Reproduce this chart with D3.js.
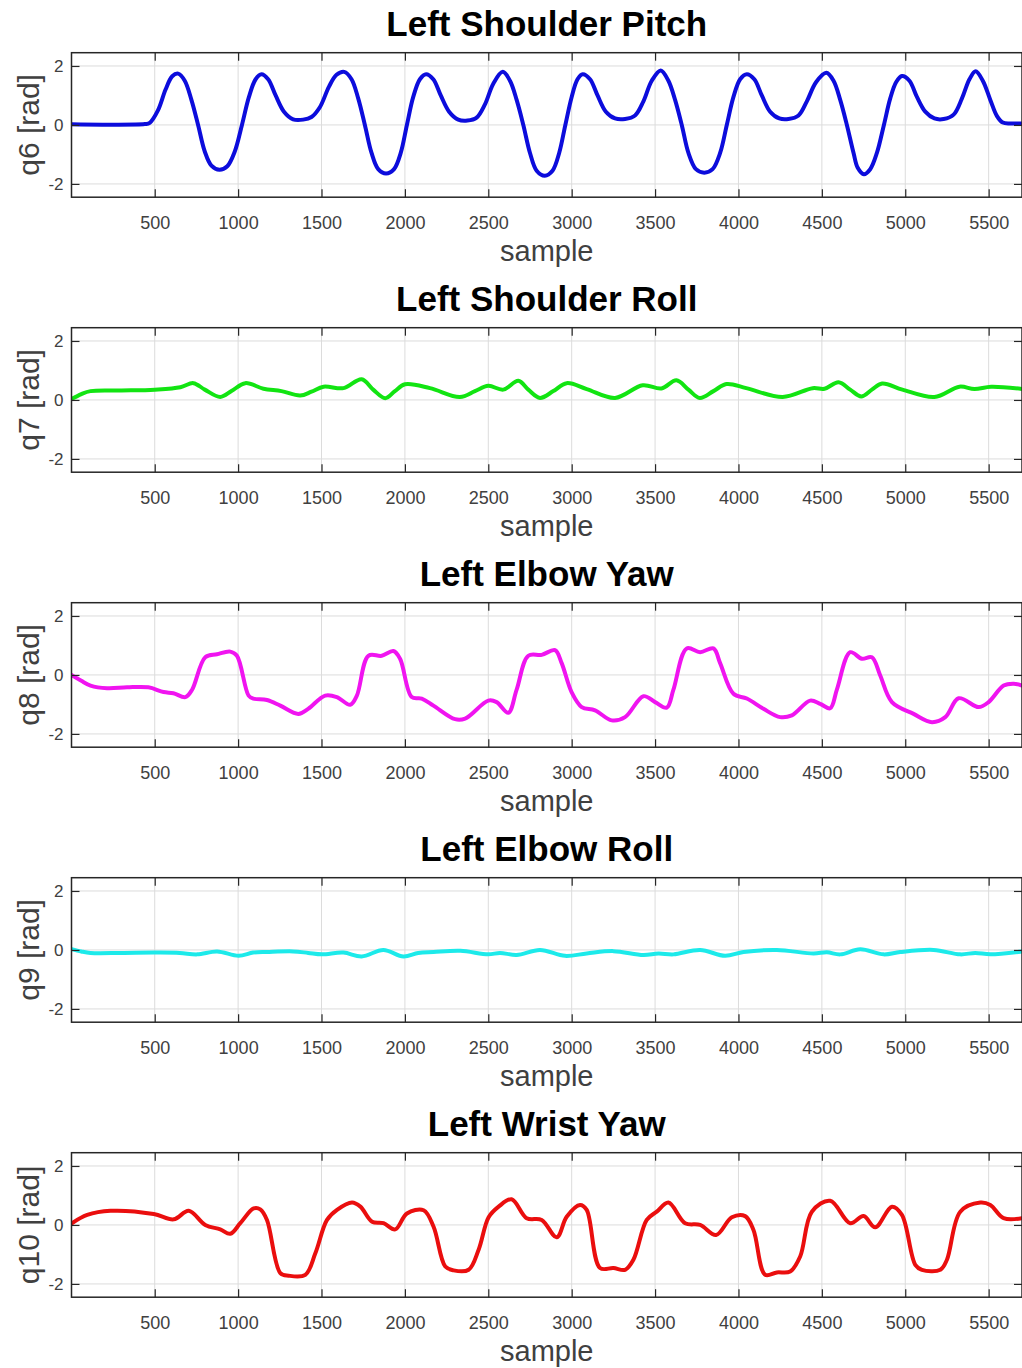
<!DOCTYPE html>
<html><head><meta charset="utf-8">
<script src="https://cdn.jsdelivr.net/npm/d3@7"></script>
<style>body{margin:0;background:#fff;overflow:hidden}text{font-family:"Liberation Sans",Arial,Helvetica,sans-serif}</style>
</head><body><svg id="c" width="1022" height="1368"></svg>
<script>
// ---------- data ----------
const titles = ["Left Shoulder Pitch", "Left Shoulder Roll", "Left Elbow Yaw", "Left Elbow Roll", "Left Wrist Yaw"];
const yLabels = ["q6 [rad]", "q7 [rad]", "q8 [rad]", "q9 [rad]", "q10 [rad]"];
const xLabel = "sample";
const xTicks = [500, 1000, 1500, 2000, 2500, 3000, 3500, 4000, 4500, 5000, 5500];
const yTicks = [-2, 0, 2];
const xDomain = [1, 5700];
const yDomain = [-2.45, 2.45];

// [sample, value] pairs
const q6 = [[1,0.02],[200,0.01],[440,0.03],[470,0.07],[520,0.5],[565,1.2],[605,1.65],[640,1.74],[680,1.5],[720,0.85],[760,0.0],[800,-0.9],[840,-1.38],[888,-1.52],[935,-1.4],[980,-0.9],[1023,0.0],[1065,0.95],[1105,1.55],[1140,1.72],[1180,1.55],[1225,1.0],[1275,0.45],[1330,0.19],[1390,0.18],[1440,0.27],[1490,0.6],[1545,1.3],[1590,1.7],[1636,1.8],[1680,1.55],[1720,0.9],[1760,0.0],[1800,-0.95],[1840,-1.5],[1887,-1.65],[1935,-1.5],[1975,-0.95],[2012,0.0],[2050,0.95],[2090,1.55],[2127,1.72],[2170,1.55],[2215,1.0],[2265,0.45],[2320,0.18],[2375,0.15],[2430,0.25],[2480,0.7],[2530,1.4],[2587,1.8],[2630,1.5],[2670,0.85],[2710,0.0],[2750,-0.95],[2790,-1.55],[2839,-1.72],[2885,-1.55],[2925,-0.95],[2962,0.0],[3000,0.95],[3035,1.55],[3066,1.72],[3110,1.55],[3155,1.0],[3205,0.45],[3260,0.22],[3320,0.2],[3380,0.32],[3430,0.8],[3480,1.5],[3534,1.85],[3580,1.5],[3620,0.85],[3660,0.0],[3700,-0.95],[3745,-1.5],[3795,-1.62],[3845,-1.5],[3890,-0.95],[3930,0.0],[3970,0.95],[4010,1.55],[4050,1.72],[4095,1.55],[4140,1.0],[4190,0.45],[4245,0.22],[4300,0.2],[4360,0.32],[4410,0.8],[4465,1.45],[4527,1.77],[4570,1.5],[4610,0.85],[4650,0.0],[4690,-0.95],[4715,-1.45],[4752,-1.67],[4790,-1.5],[4830,-0.95],[4872,0.0],[4910,0.9],[4945,1.45],[4980,1.66],[5025,1.5],[5070,0.95],[5120,0.45],[5175,0.22],[5230,0.2],[5290,0.35],[5340,0.9],[5385,1.55],[5422,1.82],[5465,1.5],[5510,0.85],[5550,0.3],[5585,0.08],[5630,0.05],[5700,0.05]];
const q7 = [[1,0.03],[60,0.2],[115,0.3],[300,0.32],[500,0.35],[654,0.43],[732,0.57],[800,0.35],[893,0.1],[960,0.3],[1043,0.57],[1152,0.38],[1260,0.3],[1372,0.15],[1440,0.28],[1512,0.45],[1632,0.4],[1741,0.7],[1810,0.35],[1882,0.06],[1940,0.3],[2001,0.53],[2150,0.4],[2330,0.1],[2420,0.3],[2500,0.48],[2590,0.35],[2680,0.65],[2740,0.35],[2810,0.07],[2890,0.3],[2970,0.57],[3090,0.37],[3260,0.07],[3426,0.5],[3538,0.39],[3628,0.67],[3700,0.35],[3768,0.07],[3850,0.3],[3928,0.54],[4047,0.4],[4265,0.1],[4445,0.4],[4516,0.38],[4600,0.6],[4670,0.35],[4736,0.12],[4800,0.35],[4861,0.56],[4983,0.35],[5175,0.1],[5325,0.45],[5415,0.37],[5515,0.45],[5700,0.37]];
const q8 = [[1,0.0],[60,-0.2],[115,-0.36],[214,-0.45],[334,-0.42],[462,-0.42],[553,-0.58],[612,-0.62],[684,-0.75],[724,-0.5],[803,0.6],[873,0.7],[953,0.79],[993,0.65],[1063,-0.7],[1091,-0.8],[1173,-0.85],[1253,-1.04],[1361,-1.32],[1420,-1.15],[1522,-0.7],[1592,-0.75],[1672,-1.01],[1712,-0.7],[1781,0.65],[1861,0.65],[1931,0.81],[1971,0.55],[2041,-0.75],[2101,-0.8],[2171,-1.04],[2301,-1.5],[2361,-1.48],[2500,-0.87],[2550,-0.92],[2620,-1.28],[2670,-0.5],[2740,0.65],[2820,0.68],[2900,0.84],[2940,0.4],[3000,-0.59],[3060,-1.09],[3140,-1.2],[3240,-1.54],[3320,-1.43],[3430,-0.72],[3500,-0.92],[3570,-1.11],[3610,-0.5],[3690,0.9],[3770,0.77],[3850,0.9],[3890,0.4],[3970,-0.64],[4050,-0.8],[4150,-1.15],[4250,-1.43],[4320,-1.37],[4430,-0.87],[4490,-0.98],[4550,-1.13],[4590,-0.5],[4670,0.77],[4740,0.55],[4800,0.6],[4850,-0.02],[4920,-0.92],[5050,-1.32],[5160,-1.6],[5240,-1.43],[5320,-0.79],[5440,-1.09],[5500,-0.92],[5590,-0.36],[5650,-0.3],[5700,-0.36]];
const q9 = [[1,0.03],[60,-0.05],[115,-0.1],[300,-0.1],[500,-0.09],[650,-0.1],[754,-0.15],[874,-0.05],[1003,-0.2],[1090,-0.09],[1173,-0.07],[1330,-0.05],[1420,-0.1],[1502,-0.15],[1631,-0.09],[1741,-0.22],[1871,0.0],[1991,-0.22],[2080,-0.1],[2171,-0.07],[2333,-0.03],[2500,-0.15],[2570,-0.1],[2670,-0.17],[2810,0.0],[2960,-0.2],[3090,-0.12],[3250,-0.04],[3430,-0.17],[3520,-0.12],[3610,-0.15],[3770,0.0],[3920,-0.2],[4030,-0.07],[4230,0.0],[4450,-0.12],[4530,-0.08],[4610,-0.15],[4730,0.02],[4870,-0.15],[4970,-0.07],[5170,0.0],[5330,-0.15],[5420,-0.1],[5510,-0.15],[5700,-0.05]];
const q10 = [[1,0.05],[95,0.34],[235,0.48],[494,0.37],[614,0.19],[704,0.48],[803,0.0],[893,-0.15],[953,-0.3],[1013,0.06],[1093,0.56],[1133,0.53],[1173,0.17],[1253,-1.63],[1303,-1.72],[1403,-1.69],[1463,-0.96],[1533,0.17],[1593,0.51],[1683,0.76],[1733,0.62],[1803,0.11],[1872,0.06],[1942,-0.15],[2012,0.39],[2112,0.5],[2172,-0.06],[2242,-1.41],[2292,-1.54],[2382,-1.52],[2442,-0.84],[2502,0.26],[2562,0.62],[2640,0.87],[2730,0.23],[2820,0.17],[2910,-0.42],[2970,0.28],[3050,0.68],[3090,0.51],[3170,-1.46],[3250,-1.46],[3320,-1.52],[3370,-1.18],[3450,0.17],[3510,0.45],[3580,0.76],[3680,0.06],[3770,0.0],[3866,-0.34],[3960,0.26],[4040,0.3],[4090,-0.17],[4160,-1.69],[4230,-1.61],[4310,-1.58],[4370,-1.07],[4440,0.45],[4550,0.82],[4670,0.06],[4750,0.3],[4820,-0.08],[4920,0.62],[4980,0.34],[5060,-1.35],[5100,-1.52],[5210,-1.52],[5250,-1.18],[5330,0.45],[5450,0.76],[5510,0.68],[5590,0.23],[5700,0.23]];
const series = [q6, q7, q8, q9, q10];

// ---------- styles / layout ----------
const colors = ["#0c0cdc", "#12e412", "#f014f0", "#1ceaea", "#ea0e0e"];
const left = 71.5, right = 1022, top0 = 52.7, step = 275, ph = 144.5;
const axisCol = "#262626", tickTextCol = "#404040", gridCol = "#dcdcdc";

const svg = d3.select("#c");
const x = d3.scaleLinear().domain(xDomain).range([left, right]);
const fmt = d => String(d);

series.forEach((data, i) => {
  const top = top0 + i * step, bottom = top + ph;
  const y = d3.scaleLinear().domain(yDomain).range([bottom, top]);
  const g = svg.append("g");

  // grid
  g.append("g").selectAll("line").data(xTicks).join("line")
    .attr("x1", d => x(d)).attr("x2", d => x(d)).attr("y1", top).attr("y2", bottom)
    .attr("stroke", gridCol).attr("stroke-width", 1);
  g.append("g").selectAll("line").data(yTicks).join("line")
    .attr("x1", left).attr("x2", right).attr("y1", d => y(d)).attr("y2", d => y(d))
    .attr("stroke", gridCol).attr("stroke-width", 1);

  // clip
  const cid = "clip" + i;
  svg.append("clipPath").attr("id", cid).append("rect")
    .attr("x", left).attr("y", top).attr("width", right - left).attr("height", ph);

  // data line
  const line = d3.line().x(d => x(d[0])).y(d => y(d[1])).curve(d3.curveCatmullRom.alpha(0.5));
  g.append("path").datum(data).attr("clip-path", `url(#${cid})`)
    .attr("d", line).attr("fill", "none").attr("stroke", colors[i])
    .attr("stroke-width", 4).attr("stroke-linejoin", "round").attr("stroke-linecap", "round");

  // axes (ticks inward)
  const xb = d3.axisBottom(x).tickValues(xTicks).tickSizeInner(-8).tickSizeOuter(0).tickPadding(19.5).tickFormat(fmt);
  const xt = d3.axisTop(x).tickValues(xTicks).tickSizeInner(-8).tickSizeOuter(0).tickFormat("");
  const yl = d3.axisLeft(y).tickValues(yTicks).tickSizeInner(-8).tickSizeOuter(0).tickPadding(8).tickFormat(fmt);
  const yr = d3.axisRight(y).tickValues(yTicks).tickSizeInner(-8).tickSizeOuter(0).tickFormat("");

  const styleAxis = (sel, fs) => {
    sel.select(".domain").remove();
    sel.selectAll(".tick line").attr("stroke", axisCol).attr("stroke-width", 1.2);
    sel.selectAll(".tick text").attr("fill", tickTextCol).style("font-size", fs + "px")
      .style("font-family", '"Liberation Sans",Arial,sans-serif');
  };
  g.append("g").attr("transform", `translate(0,${bottom})`).call(xb).call(s => styleAxis(s, 18));
  g.append("g").attr("transform", `translate(0,${top})`).call(xt).call(s => styleAxis(s, 18));
  g.append("g").attr("transform", `translate(${left},0)`).call(yl).call(s => styleAxis(s, 17));
  g.append("g").attr("transform", `translate(${right},0)`).call(yr).call(s => styleAxis(s, 17));

  // box
  g.append("rect").attr("x", left).attr("y", top).attr("width", right - left).attr("height", ph)
    .attr("fill", "none").attr("stroke", axisCol).attr("stroke-width", 1.5);

  // title
  g.append("text").attr("x", (left + right) / 2).attr("y", top - 16.5)
    .attr("text-anchor", "middle").attr("fill", "#000")
    .style("font-size", "35px").style("font-weight", "bold").text(titles[i]);

  // x label
  g.append("text").attr("x", (left + right) / 2).attr("y", bottom + 64)
    .attr("text-anchor", "middle").attr("fill", tickTextCol)
    .style("font-size", "29px").text(xLabel);

  // y label
  g.append("text").attr("transform", `translate(39,${(top + bottom) / 2}) rotate(-90)`)
    .attr("text-anchor", "middle").attr("fill", tickTextCol)
    .style("font-size", "30px").text(yLabels[i]);
});
</script></body></html>
